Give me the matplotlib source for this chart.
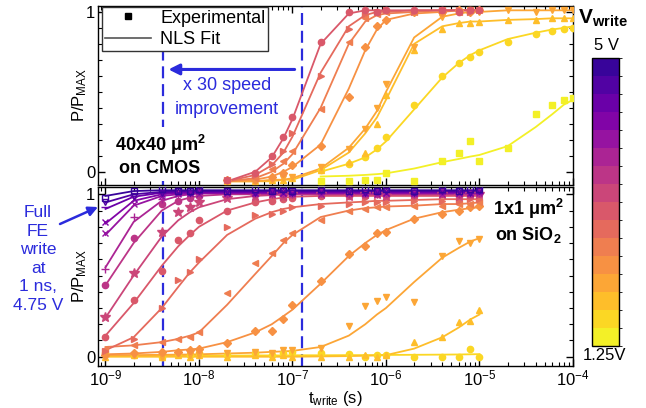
import numpy as np
import matplotlib
matplotlib.use('Agg')
import matplotlib.pyplot as plt
from matplotlib.colors import ListedColormap, BoundaryNorm
from matplotlib.ticker import LogLocator, FixedLocator, MultipleLocator, NullFormatter, LogFormatterSciNotation
from matplotlib.lines import Line2D
import matplotlib as mpl

plt.rcParams['font.family'] = ['Liberation Sans', 'DejaVu Sans']
plt.rcParams['mathtext.fontset'] = 'custom'
plt.rcParams['mathtext.rm'] = 'Liberation Sans'
plt.rcParams['mathtext.it'] = 'Liberation Sans:italic'
plt.rcParams['mathtext.bf'] = 'Liberation Sans:bold'

# ---------------- data ----------------
v_levels = [1.25, 1.5, 1.75, 2.0, 2.25, 2.5, 2.75, 3.0, 3.25, 3.5, 3.75, 4.0, 4.25, 4.5, 4.75, 5.0]
dash_fast = 4.1e-9
dash_slow = 1.27e-7
x_major_ticks = [1e-9, 1e-8, 1e-7, 1e-6, 1e-5, 1e-4]

# top panel: 40x40 um^2 on CMOS
t_top_a = [2e-8, 4e-8, 6e-8, 8e-8, 1e-7, 2e-7, 4e-7, 6e-7, 8e-7, 1e-6, 2e-6, 4e-6, 6e-6, 8e-6, 1e-5]
t_top_b = [2e-8, 4e-8, 6e-8, 8e-8, 1e-7, 2e-7, 4e-7, 6e-7, 8e-7, 1e-6, 2e-6, 4e-6, 6e-6, 8e-6, 1e-5,
           2e-5, 4e-5, 6e-5, 8e-5, 1e-4]
t_top_c = [2e-7, 4e-7, 6e-7, 8e-7, 1e-6, 2e-6, 4e-6, 6e-6, 8e-6, 1e-5, 2e-5, 4e-5, 6e-5, 8e-5, 1e-4]

top_exp_300 = [-0.05, -0.01, 0.10, 0.22, 0.34, 0.81, 1.00, 1.01, 1.00, 1.01, 1.01, 1.01, 1.00, 1.01, 1.01]
top_fit_300 = [-0.06, 0.00, 0.09, 0.21, 0.33, 0.80, 0.99, 1.01, 1.01, 1.01, 1.01, 1.01, 1.01, 1.01, 1.01]
top_exp_275 = [-0.05, -0.02, 0.05, 0.13, 0.24, 0.60, 0.89, 0.99, 1.00, 1.01, 1.00, 1.01, 1.01, 1.00, 1.01]
top_fit_275 = [-0.06, -0.02, 0.04, 0.12, 0.22, 0.62, 0.91, 0.98, 1.00, 1.00, 1.01, 1.01, 1.01, 1.01, 1.01]
top_exp_250 = [-0.05, -0.04, 0.02, 0.07, 0.13, 0.39, 0.81, 0.96, 0.99, 1.00, 1.00, 1.01, 1.00, 1.01, 1.01]
top_fit_250 = [-0.06, -0.04, 0.00, 0.05, 0.11, 0.40, 0.80, 0.94, 0.98, 0.99, 1.00, 1.01, 1.01, 1.01, 1.01]
top_exp_225 = [-0.05, -0.05, -0.03, -0.01, 0.04, 0.16, 0.47, 0.78, 0.91, 0.95, 1.00, 1.00, 1.01, 1.00, 1.01]
top_fit_225 = [-0.06, -0.05, -0.03, 0.00, 0.03, 0.17, 0.52, 0.76, 0.89, 0.95, 0.99, 1.00, 1.01, 1.01, 1.01]
top_exp_200 = [-0.06, -0.05, -0.05, -0.04, -0.03, 0.03, 0.14, 0.27, 0.40, 0.55, 0.78, 0.97, 1.00, 1.01, 1.00,
               1.01, 1.00, 1.01, 1.01, 1.01]
top_fit_200 = [-0.06, -0.06, -0.05, -0.05, -0.04, 0.02, 0.15, 0.27, 0.38, 0.50, 0.84, 0.97, 0.99, 1.00, 1.00,
               1.01, 1.01, 1.01, 1.01, 1.01]
top_exp_175 = [-0.06, -0.06, -0.05, -0.05, -0.04, 0.01, 0.06, 0.12, 0.30, 0.48, 0.76, 0.89, 0.93, 0.93, 0.94,
               0.95, 0.95, 0.96, 0.96, 0.96]
top_fit_175 = [-0.06, -0.06, -0.06, -0.05, -0.05, 0.01, 0.12, 0.24, 0.34, 0.45, 0.80, 0.91, 0.93, 0.94, 0.94,
               0.95, 0.955, 0.96, 0.96, 0.96]
top_exp_150 = [0.01, 0.05, 0.09, 0.15, 0.22, 0.42, 0.60, 0.68, 0.72, 0.75, 0.81, 0.86, 0.88, 0.89, 0.90]
top_fit_150 = [0.00, 0.05, 0.09, 0.14, 0.19, 0.39, 0.59, 0.68, 0.73, 0.76, 0.83, 0.87, 0.89, 0.90, 0.91]
top_exp_125 = [-0.06, -0.06, -0.05, -0.05, -0.01, -0.06, 0.065, 0.12, 0.19, 0.07, 0.15, 0.36, 0.42, 0.45, 0.46]
top_fit_125 = [-0.03, -0.025, -0.02, -0.015, -0.01, 0.02, 0.06, 0.08, 0.095, 0.105, 0.16, 0.28, 0.36, 0.42, 0.45]

# bottom panel: 1x1 um^2 on SiO2
t_bot = [1e-9, 2e-9, 4e-9, 6e-9, 8e-9, 1e-8, 2e-8, 4e-8, 6e-8, 8e-8, 1e-7, 2e-7, 4e-7, 6e-7, 8e-7,
         1e-6, 2e-6, 4e-6, 6e-6, 8e-6, 1e-5]

bot_exp_500 = [0.98, 1.02, 1.03, 1.02, 1.02, 1.03, 1.02, 1.03, 1.02, 1.03, 1.02, 1.03, 1.02, 1.03, 1.02, 1.03, 1.02, 1.03, 1.02, 1.03, 1.03]
bot_fit_500 = [0.99, 1.02, 1.025, 1.025, 1.025, 1.025, 1.025, 1.025, 1.025, 1.025, 1.025, 1.025, 1.025, 1.025, 1.025, 1.025, 1.025, 1.025, 1.025, 1.025, 1.025]
bot_exp_475 = [0.95, 0.99, 1.01, 1.02, 1.01, 1.02, 1.02, 1.01, 1.02, 1.02, 1.01, 1.02, 1.02, 1.01, 1.02, 1.02, 1.01, 1.02, 1.02, 1.01, 1.02]
bot_fit_475 = [0.95, 1.00, 1.015, 1.02, 1.02, 1.02, 1.02, 1.02, 1.02, 1.02, 1.02, 1.02, 1.02, 1.02, 1.02, 1.02, 1.02, 1.02, 1.02, 1.02, 1.02]
bot_exp_450 = [0.92, 0.99, 1.01, 1.01, 1.02, 1.01, 1.02, 1.01, 1.01, 1.02, 1.01, 1.01, 1.02, 1.01, 1.01, 1.02, 1.01, 1.01, 1.02, 1.01, 1.01]
bot_fit_450 = [0.91, 0.985, 1.01, 1.015, 1.015, 1.015, 1.015, 1.015, 1.015, 1.015, 1.015, 1.015, 1.015, 1.015, 1.015, 1.015, 1.015, 1.015, 1.015, 1.015, 1.015]
bot_exp_425 = [0.83, 0.97, 1.00, 1.01, 1.01, 1.02, 1.01, 1.01, 1.02, 1.01, 1.01, 1.02, 1.01, 1.01, 1.02, 1.01, 1.01, 1.02, 1.01, 1.01, 1.02]
bot_fit_425 = [0.82, 0.96, 1.00, 1.01, 1.01, 1.01, 1.01, 1.01, 1.01, 1.01, 1.01, 1.01, 1.01, 1.01, 1.01, 1.01, 1.01, 1.01, 1.01, 1.01, 1.01]
bot_exp_400 = [0.76, 0.94, 0.99, 1.00, 1.01, 1.00, 1.01, 1.01, 1.00, 1.01, 1.01, 1.00, 1.01, 1.01, 1.00, 1.01, 1.01, 1.00, 1.01, 1.01, 1.01]
bot_fit_400 = [0.75, 0.93, 0.99, 1.00, 1.005, 1.01, 1.01, 1.01, 1.01, 1.01, 1.01, 1.01, 1.01, 1.01, 1.01, 1.01, 1.01, 1.01, 1.01, 1.01, 1.01]
bot_exp_375 = [0.54, 0.86, 0.97, 1.00, 1.00, 1.01, 1.00, 1.01, 1.00, 1.01, 1.00, 1.01, 1.00, 1.01, 1.00, 1.01, 1.00, 1.01, 1.00, 1.01, 1.01]
bot_fit_375 = [0.55, 0.83, 0.96, 0.99, 1.00, 1.005, 1.005, 1.005, 1.005, 1.005, 1.005, 1.005, 1.005, 1.005, 1.005, 1.005, 1.005, 1.005, 1.005, 1.005, 1.005]
bot_exp_350 = [0.44, 0.73, 0.94, 0.96, 0.98, 0.99, 1.00, 1.00, 1.01, 1.00, 1.00, 1.01, 1.00, 1.00, 1.01, 1.00, 1.00, 1.01, 1.00, 1.00, 1.01]
bot_fit_350 = [0.44, 0.70, 0.90, 0.96, 0.98, 0.99, 1.00, 1.00, 1.00, 1.00, 1.00, 1.00, 1.00, 1.00, 1.00, 1.00, 1.00, 1.00, 1.00, 1.00, 1.00]
bot_exp_325 = [0.245, 0.515, 0.77, 0.89, 0.92, 0.95, 0.98, 0.99, 1.00, 0.99, 1.00, 1.00, 0.99, 1.00, 1.00, 0.99, 1.00, 1.00, 0.99, 1.00, 1.00]
bot_fit_325 = [0.24, 0.50, 0.74, 0.84, 0.89, 0.92, 0.97, 0.99, 0.995, 1.00, 1.00, 1.00, 1.00, 1.00, 1.00, 1.00, 1.00, 1.00, 1.00, 1.00, 1.00]
bot_exp_300 = [0.12, 0.35, 0.53, 0.72, 0.76, 0.84, 0.90, 0.95, 0.96, 0.97, 0.98, 0.99, 0.99, 0.99, 1.00, 0.99, 0.99, 1.00, 0.99, 0.99, 1.00]
bot_fit_300 = [0.13, 0.33, 0.56, 0.68, 0.75, 0.80, 0.90, 0.95, 0.97, 0.98, 0.985, 0.99, 0.99, 0.99, 0.99, 0.99, 0.99, 0.99, 0.99, 0.99, 0.99]
bot_exp_275 = [0.035, 0.11, 0.30, 0.475, 0.52, 0.60, 0.80, 0.87, 0.88, 0.90, 0.92, 0.93, 0.94, 0.95, 0.95, 0.95, 0.96, 0.96, 0.96, 0.97, 0.97]
bot_fit_275 = [0.04, 0.12, 0.30, 0.43, 0.52, 0.58, 0.75, 0.85, 0.89, 0.91, 0.92, 0.94, 0.95, 0.955, 0.96, 0.96, 0.965, 0.97, 0.97, 0.97, 0.97]
bot_exp_250 = [0.05, 0.07, 0.09, 0.11, 0.12, 0.15, 0.39, 0.58, 0.64, 0.72, 0.76, 0.84, 0.90, 0.91, 0.92, 0.92, 0.93, 0.93, 0.94, 0.94, 0.95]
bot_fit_250 = [0.06, 0.07, 0.09, 0.11, 0.13, 0.15, 0.32, 0.51, 0.62, 0.70, 0.75, 0.86, 0.90, 0.915, 0.92, 0.925, 0.93, 0.94, 0.94, 0.945, 0.95]
bot_exp_225 = [0.01, 0.02, 0.03, 0.03, 0.04, 0.05, 0.085, 0.157, 0.16, 0.23, 0.32, 0.464, 0.63, 0.68, 0.76, 0.77, 0.845, 0.878, 0.90, 0.92, 0.93]
bot_fit_225 = [0.015, 0.02, 0.03, 0.04, 0.045, 0.05, 0.09, 0.15, 0.20, 0.25, 0.29, 0.45, 0.62, 0.70, 0.75, 0.78, 0.85, 0.89, 0.905, 0.915, 0.92]
bot_exp_200 = [0.00, 0.01, 0.00, 0.02, 0.01, 0.01, 0.02, 0.03, 0.02, 0.04, 0.04, 0.054, 0.19, 0.31, 0.345, 0.365, 0.34, 0.62, 0.71, 0.70, 0.726]
bot_fit_200 = [0.01, 0.01, 0.012, 0.013, 0.014, 0.015, 0.02, 0.025, 0.03, 0.033, 0.036, 0.06, 0.13, 0.20, 0.26, 0.30, 0.46, 0.61, 0.67, 0.71, 0.73]
bot_exp_175 = [0.00, 0.01, 0.00, 0.01, 0.00, 0.01, 0.00, 0.01, 0.00, 0.01, 0.00, 0.00, 0.00, 0.01, 0.00, 0.01, 0.09, 0.12, 0.215, 0.22, 0.285]
bot_fit_175 = [0.00, 0.00, 0.00, 0.00, 0.00, 0.00, 0.00, 0.00, 0.00, 0.00, 0.00, 0.002, 0.004, 0.006, 0.008, 0.01, 0.05, 0.12, 0.18, 0.23, 0.26]
bot_exp_150 = [0.02, 0.01, 0.00, 0.02, 0.01, 0.02, 0.01, 0.02, 0.01, 0.02, 0.03, 0.02, 0.017, 0.00, 0.01, 0.01, 0.00, 0.00, 0.00, 0.05, 0.00]
bot_fit_150 = [0.005, 0.005, 0.006, 0.006, 0.006, 0.007, 0.007, 0.008, 0.008, 0.008, 0.009, 0.009, 0.01, 0.01, 0.01, 0.011, 0.012, 0.013, 0.014, 0.015, 0.016]

# series tables built from the named arrays: (voltage, marker, filled, times, exp, fit)
top_series = [
    (1.25, 's', True, t_top_c, top_exp_125, top_fit_125),
    (1.5, 'o', True, t_top_c, top_exp_150, top_fit_150),
    (1.75, '^', True, t_top_b, top_exp_175, top_fit_175),
    (2.0, 'v', True, t_top_b, top_exp_200, top_fit_200),
    (2.25, 'D', True, t_top_a, top_exp_225, top_fit_225),
    (2.5, '<', True, t_top_a, top_exp_250, top_fit_250),
    (2.75, '>', True, t_top_a, top_exp_275, top_fit_275),
    (3.0, 'o', True, t_top_a, top_exp_300, top_fit_300),
]
bot_series = [
    (1.5, 'o', True, t_bot, bot_exp_150, bot_fit_150),
    (1.75, '^', True, t_bot, bot_exp_175, bot_fit_175),
    (2.0, 'v', True, t_bot, bot_exp_200, bot_fit_200),
    (2.25, 'D', True, t_bot, bot_exp_225, bot_fit_225),
    (2.5, '<', True, t_bot, bot_exp_250, bot_fit_250),
    (2.75, '>', True, t_bot, bot_exp_275, bot_fit_275),
    (3.0, 'o', True, t_bot, bot_exp_300, bot_fit_300),
    (3.25, '*', True, t_bot, bot_exp_325, bot_fit_325),
    (3.5, 'o', True, t_bot, bot_exp_350, bot_fit_350),
    (3.75, '+', False, t_bot, bot_exp_375, bot_fit_375),
    (4.0, 'x', False, t_bot, bot_exp_400, bot_fit_400),
    (4.25, 'x', False, t_bot, bot_exp_425, bot_fit_425),
    (4.5, '_', False, t_bot, bot_exp_450, bot_fit_450),
    (4.75, 'v', False, t_bot, bot_exp_475, bot_fit_475),
    (5.0, 's', False, t_bot, bot_exp_500, bot_fit_500),
]

# ---------------- style ----------------
W, H = 646, 408
blue = '#2b2bdc'
cmap_base = plt.get_cmap('plasma')
level_colors = [cmap_base(c) for c in np.linspace(0.98, 0.08, len(v_levels))]


def vcolor(v):
    return level_colors[v_levels.index(v)]


def fx(x):
    return x / W


def fy(y):
    return 1 - y / H


msizes = {'s': 4, 'o': 4.5, '^': 5, 'v': 5, 'D': 3.8, '<': 5, '>': 5, '*': 7, '+': 6, 'x': 5, '_': 6}

fig = plt.figure(figsize=(W / 100, H / 100), dpi=100)
ax_top = fig.add_axes([fx(98), fy(185), (573 - 98) / W, 179 / H])
ax_bot = fig.add_axes([fx(98), fy(366), (573 - 98) / W, 179 / H])
cax = fig.add_axes([fx(592), fy(346), 27 / W, 288 / H])


def draw(ax, series):
    for v, m, filled, t, e, f in series:
        c = vcolor(v)
        ax.plot(t, f, '-', color=c, lw=1.3, zorder=3)
        if filled:
            ax.plot(t, e, ls='none', marker=m, color=c, ms=msizes[m], mec=c, zorder=4)
        else:
            ax.plot(t, e, ls='none', marker=m, mfc='none', mec=c, ms=msizes[m], mew=1.0, zorder=4)


draw(ax_top, top_series)
draw(ax_bot, bot_series)

for ax, ylim in ((ax_top, (-0.083, 1.037)), (ax_bot, (-0.057, 1.045))):
    ax.set_xscale('log')
    ax.set_xlim(10 ** -9.08, 1e-4)
    ax.set_ylim(*ylim)
    ax.xaxis.set_major_locator(FixedLocator(x_major_ticks))
    ax.xaxis.set_major_formatter(LogFormatterSciNotation())
    ax.xaxis.set_minor_locator(LogLocator(base=10, subs=np.arange(2, 10), numticks=12))
    ax.xaxis.set_minor_formatter(NullFormatter())
    ax.yaxis.set_major_locator(FixedLocator([0, 1]))
    ax.yaxis.set_minor_locator(MultipleLocator(0.1))
    ax.set_yticklabels(['0', '1'])
    ax.tick_params(which='both', direction='in', top=True, right=True, labelsize=12, pad=2)
    ax.tick_params(which='major', length=5, width=1)
    ax.tick_params(which='minor', length=3, width=0.8)
    for s in ax.spines.values():
        s.set_linewidth(1.0)
    ax.axvline(dash_fast, color=blue, ls=(0, (5.4, 2.6)), lw=1.6, zorder=2)
    ax.axvline(dash_slow, color=blue, ls=(0, (5.4, 2.6)), lw=1.6, zorder=2)
    ax.set_ylabel(r'P/P$_\mathregular{MAX}$', fontsize=12, labelpad=-2)

ax_top.tick_params(labelbottom=False)
ax_bot.set_xlabel(r't$_\mathregular{write}$ (s)', fontsize=12, labelpad=0)

# legend
handles = [Line2D([], [], marker='s', color='k', ls='none', ms=4),
           Line2D([], [], color='#555555', lw=1.2)]
leg = ax_top.legend(handles, ['Experimental', 'NLS Fit'], loc='upper left',
                    bbox_to_anchor=(0.008, 0.995), borderaxespad=0, fontsize=13,
                    fancybox=False, edgecolor='#333333', framealpha=1,
                    handlelength=2.6, borderpad=0.15, labelspacing=0.25, handletextpad=0.5)
leg.get_frame().set_linewidth(1.0)
leg.set_zorder(6)

# top panel annotations
ax_top.annotate('', xy=(dash_fast * 1.15, 0.64), xytext=(dash_slow * 0.83, 0.64),
                arrowprops=dict(arrowstyle='-|>', color=blue, lw=2.2, mutation_scale=16,
                                shrinkA=0, shrinkB=0), zorder=5)
fig.text(fx(227), fy(85), 'x 30 speed', color=blue, fontsize=13, ha='center', va='center')
fig.text(fx(227), fy(110), 'improvement', color=blue, fontsize=13, ha='center', va='center')
fig.text(fx(160), fy(155), '40x40 $\\mathbf{\\mu m^2}$\non CMOS', fontsize=13, fontweight='bold',
         ha='center', va='center', linespacing=1.25,
         bbox=dict(facecolor='white', edgecolor='none', pad=3), zorder=7)

# bottom panel annotations
fig.text(fx(528), fy(221), '1x1 $\\mathbf{\\mu m^2}$\non SiO$_\\mathbf{2}$', fontsize=13, fontweight='bold',
         ha='center', va='center', linespacing=1.3)
fig.text(fx(38), fy(259), 'Full\nFE\nwrite\nat\n1 ns,\n4.75 V', color=blue, fontsize=12.5,
         ha='center', va='center', linespacing=1.3)
fig.add_artist(matplotlib.patches.FancyArrowPatch(
    (fx(60), fy(224)), (fx(98), fy(207)), transform=fig.transFigure,
    arrowstyle='-|>', mutation_scale=14, color=blue, lw=1.8, shrinkA=0, shrinkB=0))

# colorbar
cmap = ListedColormap(level_colors)
bounds = np.arange(len(v_levels) + 1)
norm = BoundaryNorm(bounds, cmap.N)
cb = mpl.colorbar.ColorbarBase(cax, cmap=cmap, norm=norm, orientation='vertical')
cb.set_ticks([])
cb.outline.set_linewidth(1.0)
fig.text(fx(603), fy(18), r'V$_\mathbf{write}$', fontsize=15, fontweight='bold', ha='center', va='center')
fig.text(fx(606), fy(46), '5 V', fontsize=12, ha='center', va='center')
fig.text(fx(605), fy(356), '1.25V', fontsize=12, ha='center', va='center')

fig.savefig('out.png', dpi=100)
